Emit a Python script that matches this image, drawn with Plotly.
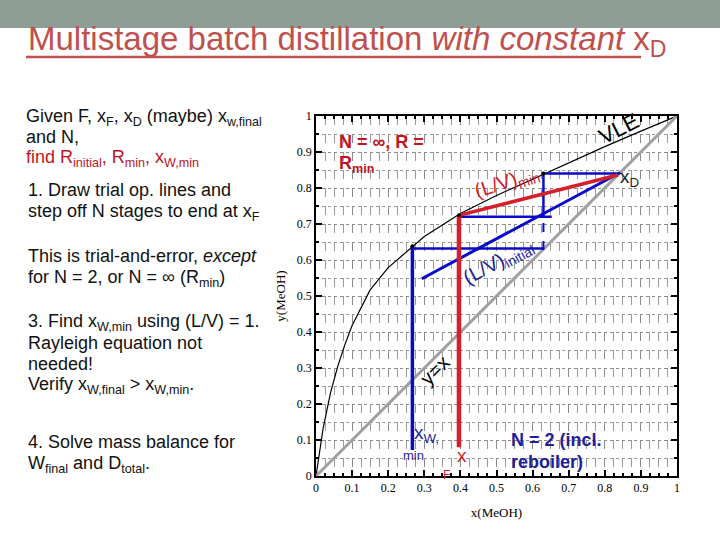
import plotly.graph_objects as go

# ---------------- data ----------------
vle_x = [0, 0.02, 0.04, 0.06, 0.08, 0.10, 0.15, 0.20, 0.30, 0.40, 0.50, 0.60, 0.70, 0.80, 0.90, 0.95, 1.0]
vle_y = [0, 0.134, 0.230, 0.304, 0.365, 0.418, 0.517, 0.579, 0.665, 0.729, 0.779, 0.825, 0.870, 0.915, 0.958, 0.979, 1.0]

diag_x = [0, 1]
diag_y = [0, 1]

# (L/V)min operating line and x_F vertical (red)
opmin_x = [0.396, 0.836]
opmin_y = [0.724, 0.836]
xF_line_x = [0.396, 0.396]
xF_line_y = [0.080, 0.724]

# (L/V)initial operating line (blue)
opinit_x = [0.293, 0.843]
opinit_y = [0.548, 0.843]

# N = 2 staircase (blue)
step1_x = [0.630, 0.840]
step1_y = [0.840, 0.840]
step2_x = [0.630, 0.630]
step2_y = [0.720, 0.840]
step3_x = [0.396, 0.653]
step3_y = [0.720, 0.720]
step4_x = [0.630, 0.630]
step4_y = [0.628, 0.720]
step5_x = [0.267, 0.630]
step5_y = [0.632, 0.632]

# x_W,min vertical (blue)
xW_line_x = [0.267, 0.267]
xW_line_y = [0.072, 0.638]

# points on VLE
pts_x = [0.267, 0.396, 0.630]
pts_y = [0.638, 0.724, 0.840]

x_ticks = [0, 0.1, 0.2, 0.3, 0.4, 0.5, 0.6, 0.7, 0.8, 0.9, 1]
y_ticks = [0, 0.1, 0.2, 0.3, 0.4, 0.5, 0.6, 0.7, 0.8, 0.9, 1]

# ---------------- layout helpers ----------------
W, H = 720, 540
PX0, PX1, PY0, PY1 = 316, 677, 116, 476  # plot area in pixels


def px(x):
    return (x - PX0) / (PX1 - PX0)


def py(y):
    return (PY1 - y) / (PY1 - PY0)


BLUE = "#0a0ac8"
BLUE_T = "#1e1e9c"
RED = "#d4202a"
RED_T = "#c0141e"
TITLE_C = "#c0504d"
TXT = "#111111"

fig = go.Figure()

fig.add_trace(go.Scatter(x=vle_x, y=vle_y, mode="lines", line=dict(color="black", width=1.2), hoverinfo="skip"))
fig.add_trace(go.Scatter(x=diag_x, y=diag_y, mode="lines", line=dict(color="#a0a0a0", width=3), hoverinfo="skip"))

for xs, ys, w, dash in [
    (step1_x, step1_y, 2.5, "solid"),
    (step2_x, step2_y, 2.5, "solid"),
    (step3_x, step3_y, 2.5, "solid"),
    (step4_x, step4_y, 2.0, "dash"),
    (step5_x, step5_y, 2.5, "solid"),
    (opinit_x, opinit_y, 3, "solid"),
    (xW_line_x, xW_line_y, 3.5, "solid"),
]:
    fig.add_trace(go.Scatter(x=xs, y=ys, mode="lines", line=dict(color=BLUE, width=w, dash=dash), hoverinfo="skip"))

fig.add_trace(go.Scatter(x=opmin_x, y=opmin_y, mode="lines", line=dict(color=RED, width=3.5), hoverinfo="skip"))
fig.add_trace(go.Scatter(x=xF_line_x, y=xF_line_y, mode="lines", line=dict(color=RED, width=4.5), hoverinfo="skip"))
fig.add_trace(go.Scatter(x=pts_x, y=pts_y, mode="markers", marker=dict(color="black", size=4), hoverinfo="skip"))

ann = []

# chart labels (data coords)
def dlab(x, y, text, color, size, angle=0, xanchor="center", bold=False):
    ann.append(dict(x=x, y=y, xref="x", yref="y", text=("<b>%s</b>" % text) if bold else text,
                    showarrow=False, textangle=angle, xanchor=xanchor, yanchor="middle",
                    font=dict(family="Liberation Sans, Arial", size=size, color=color)))

dlab(0.839, 0.966, "VLE", "black", 22, angle=-27)
dlab(0.837, 0.828, "x<sub>D</sub>", "#222222", 19, xanchor="left")
dlab(0.530, 0.815, "(L/V)<sub>min</sub>", RED, 20, angle=-18)
dlab(0.505, 0.592, "(L/V)<sub>initial</sub>", BLUE_T, 20, angle=-28)
dlab(0.330, 0.294, "y=x", "black", 20, angle=-45)
dlab(0.266, 0.117, "x<sub>W,</sub>", BLUE_T, 19, xanchor="left")
dlab(0.271, 0.058, "min", BLUE_T, 13)
dlab(0.404, 0.058, "x", RED, 19)
dlab(0.362, 0.003, "F", RED, 12)

# paper-coord text
def plab(xp, yp, text, color, size, family="Liberation Sans, Arial", yanchor="middle", xanchor="left"):
    ann.append(dict(x=px(xp), y=py(yp), xref="paper", yref="paper", text=text, showarrow=False,
                    xanchor=xanchor, yanchor=yanchor, align="left",
                    font=dict(family=family, size=size, color=color)))

plab(337, 142, "<b>N = ∞, R =</b>", RED_T, 18)
plab(337, 164, "<b>R<sub>min</sub></b>", RED_T, 18)
plab(509, 440, "<b>N = 2 (incl.</b>", BLUE_T, 18)
plab(509, 462, "<b>reboiler)</b>", BLUE_T, 18)

# left text panel
FS = 18
plab(24, 117, "Given F, x<sub>F</sub>, x<sub>D</sub> (maybe) x<sub>w,final</sub>", TXT, FS)
plab(24, 137, "and N,", TXT, FS)
plab(24, 158, "find R<sub>initial</sub>, R<sub>min</sub>, x<sub>W,min</sub>", RED_T, FS)
plab(26, 190, "1. Draw trial op. lines and", TXT, FS)
plab(26, 212, "step off N stages to end at x<sub>F</sub>", TXT, FS)
plab(26, 256, "This is trial-and-error, <i>except</i>", TXT, FS)
plab(26, 278, "for N = 2, or N = ∞ (R<sub>min</sub>)", TXT, FS)
plab(26, 322, "3. Find x<sub>W,min</sub> using (L/V) = 1.", TXT, FS)
plab(26, 343, "Rayleigh equation not", TXT, FS)
plab(26, 364, "needed!", TXT, FS)
plab(26, 385, "Verify x<sub>W,final</sub> > x<sub>W,min</sub>.", TXT, FS)
plab(26, 442, "4. Solve mass balance for", TXT, FS)
plab(26, 464, "W<sub>final</sub> and D<sub>total</sub>.", TXT, FS)

# title
plab(26, 41, "Multistage batch distillation <i>with constant</i> x<sub>D</sub>", TITLE_C, 33,
     family="Liberation Sans Narrow, Arial Narrow, Liberation Sans")

shapes = [
    dict(type="rect", xref="paper", yref="paper", x0=px(0), x1=px(W), y0=py(28), y1=py(0),
         fillcolor="#8e9e96", line=dict(width=0), layer="below"),
    dict(type="line", xref="paper", yref="paper", x0=px(26), x1=px(641), y0=py(57), y1=py(57),
         line=dict(color=TITLE_C, width=2.5)),
]

axis_common = dict(
    range=[0, 1], showline=True, linecolor="black", linewidth=1.5, mirror="ticks",
    ticks="inside", ticklen=6, tickcolor="black", tickwidth=1.5,
    showgrid=True, gridcolor="#8a8a8a", gridwidth=1,
    zeroline=False,
    tickfont=dict(family="Liberation Serif, Times New Roman", size=12, color="black"),
)

fig.update_layout(
    width=W, height=H,
    margin=dict(l=PX0, r=W - PX1, t=PY0, b=H - PY1, pad=0),
    paper_bgcolor="white", plot_bgcolor="white",
    showlegend=False,
    annotations=ann, shapes=shapes,
    xaxis=dict(**axis_common, tickvals=x_ticks, ticktext=[str(v) for v in x_ticks], griddash="dash",
               minor=dict(dtick=0.025, showgrid=True, gridcolor="#9a9a9a", griddash="dash", ticks="inside", ticklen=3, tickcolor="black"),
               title=dict(text="x(MeOH)", font=dict(family="Liberation Serif, Times New Roman", size=13, color="black"), standoff=14)),
    yaxis=dict(**axis_common, tickvals=y_ticks, ticktext=[str(v) for v in y_ticks], griddash="dot",
               minor=dict(dtick=0.05, showgrid=True, gridcolor="#9a9a9a", griddash="dot", ticks="inside", ticklen=3, tickcolor="black"),
               title=dict(text="y(MeOH)", font=dict(family="Liberation Serif, Times New Roman", size=13, color="black"), standoff=8)),
)

fig.write_html("out.html")
